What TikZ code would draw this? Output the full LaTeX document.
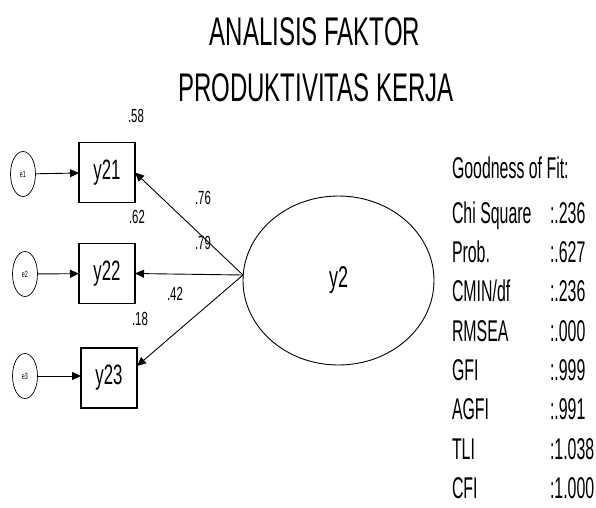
\documentclass[tikz,border=0pt]{standalone}
\usepackage{fontspec}
\setmainfont{Liberation Sans}[FakeStretch=0.6]
\newfontfamily\fitfont{Liberation Sans}[FakeStretch=0.53]
\usetikzlibrary{arrows.meta,shapes.geometric}
\begin{document}
\begin{tikzpicture}[x=1pt,y=-1pt,
  every node/.style={inner sep=0pt,outer sep=0pt},
  title/.style={font=\fontsize{40}{40}\selectfont,anchor=base},
  obs/.style={draw,line width=1.1pt,minimum width=56pt,minimum height=60pt,font=\fontsize{28}{28}\selectfont},
  err/.style={draw,ellipse,line width=0.7pt,minimum width=25pt,minimum height=45pt,font=\fontsize{9}{9}\selectfont},
  lat/.style={draw,ellipse,line width=0.9pt,minimum width=191pt,minimum height=169pt,font=\fontsize{30}{30}\selectfont},
  coef/.style={font=\fontsize{19}{19}\selectfont},
  fit/.style={font=\fitfont\fontsize{30}{30}\selectfont,anchor=base west},
  arr/.style={line width=0.9pt,-{Triangle[length=9pt,width=8pt]}}
]
\useasboundingbox (0,0) rectangle (596,507);

\node[title] (t1) at (315,45) {ANALISIS FAKTOR};
\node[title] (t2) at (316,101) {PRODUKTIVITAS KERJA};

\node[obs] (y21) at (107,172.5) {y21};
\node[obs] (y22) at (107,273.5) {y22};
\node[obs] (y23) at (109,378) {y23};

\node[err] (e1) at (23,174) {e1};
\node[err] (e2) at (25,274) {e2};
\node[err] (e3) at (25,376) {e3};

\node[lat] (y2) at (338.5,280.5) {y2};
\coordinate (o) at (243,275);
\coordinate (t23) at (137,366);

\draw[arr] (e1) -- (y21);
\draw[arr] (e2) -- (y22);
\draw[arr] (e3.east) -- (e3.east -| y23.west);

\draw[arr] (o) -- (y21.east);
\draw[arr] (o) -- (y22.east);
\draw[arr] (o) -- (t23);

\node[coef] (c58) at (136,116) {.58};
\node[coef] (c62) at (137,217) {.62};
\node[coef] (c18) at (140,319) {.18};
\node[coef] (c76) at (203,198) {.76};
\node[coef] (c79) at (203,243) {.79};
\node[coef] (c42) at (175,294) {.42};

\node[fit] (g0) at (452,178) {Goodness of Fit:};
\node[fit] (l1) at (452,223) {Chi Square};
\node[fit] (l2) at (452,262) {Prob.};
\node[fit] (l3) at (452,301) {CMIN/df};
\node[fit] (l4) at (452,341) {RMSEA};
\node[fit] (l5) at (452,380) {GFI};
\node[fit] (l6) at (452,419) {AGFI};
\node[fit] (l7) at (452,459) {TLI};
\node[fit] (l8) at (452,498) {CFI};
\node[fit] (v1) at (550,223) {:.236};
\node[fit] (v2) at (550,262) {:.627};
\node[fit] (v3) at (550,301) {:.236};
\node[fit] (v4) at (550,341) {:.000};
\node[fit] (v5) at (550,380) {:.999};
\node[fit] (v6) at (550,419) {:.991};
\node[fit] (v7) at (550,459) {:1.038};
\node[fit] (v8) at (550,498) {:1.000};
\end{tikzpicture}
\end{document}
